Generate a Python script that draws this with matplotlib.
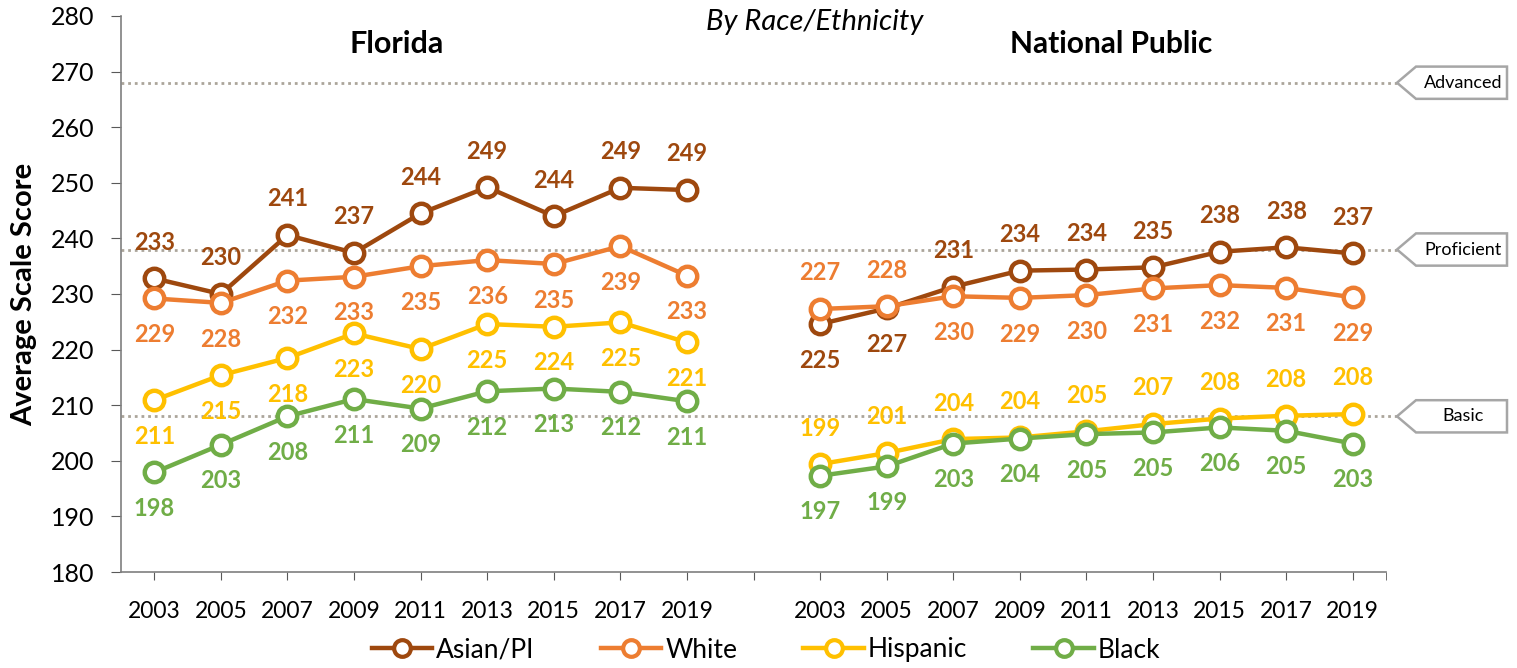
import matplotlib
matplotlib.use("Agg")
import matplotlib.pyplot as plt
from matplotlib.patches import Polygon
from matplotlib.lines import Line2D
from matplotlib.transforms import blended_transform_factory

# ---- data -----------------------------------------------------------
years = ["2003", "2005", "2007", "2009", "2011", "2013", "2015", "2017", "2019"]
groups = ["Asian/PI", "White", "Hispanic", "Black"]

fl_asian = [232.8, 230.0, 240.6, 237.4, 244.5, 249.2, 244.0, 249.1, 248.7]
fl_white = [229.2, 228.4, 232.4, 233.1, 235.0, 236.1, 235.4, 238.6, 233.3]
fl_hispanic = [210.9, 215.4, 218.5, 222.9, 220.1, 224.6, 224.1, 224.9, 221.3]
fl_black = [197.9, 202.9, 208.0, 211.1, 209.4, 212.5, 213.0, 212.4, 210.7]

nat_asian = [224.6, 227.4, 231.3, 234.2, 234.4, 234.8, 237.6, 238.4, 237.3]
nat_white = [227.3, 227.8, 229.6, 229.3, 229.8, 231.0, 231.6, 231.1, 229.4]
nat_hispanic = [199.4, 201.4, 203.9, 204.2, 205.3, 206.6, 207.6, 208.1, 208.4]
nat_black = [197.3, 199.0, 203.1, 204.0, 204.8, 205.1, 206.0, 205.4, 203.1]

# label side per point: 1 = above, -1 = below
fl_side = {
    "Asian/PI": [1] * 9,
    "White": [-1] * 9,
    "Hispanic": [-1] * 9,
    "Black": [-1] * 9,
}
nat_side = {
    "Asian/PI": [-1, -1, 1, 1, 1, 1, 1, 1, 1],
    "White": [1, 1, -1, -1, -1, -1, -1, -1, -1],
    "Hispanic": [1] * 9,
    "Black": [-1] * 9,
}

levels = ["Advanced", "Proficient", "Basic"]
level_scores = [268, 238, 208]

colors = {"Asian/PI": "#9E480E", "White": "#ED7D31", "Hispanic": "#FFC000", "Black": "#70AD47"}

florida = {"Asian/PI": fl_asian, "White": fl_white, "Hispanic": fl_hispanic, "Black": fl_black}
national = {"Asian/PI": nat_asian, "White": nat_white, "Hispanic": nat_hispanic, "Black": nat_black}

# ---- figure ---------------------------------------------------------
plt.rcParams["font.family"] = ["Lato", "DejaVu Sans"]
fig = plt.figure(figsize=(15.17, 6.68), dpi=100)
ax = fig.add_axes([121 / 1517, 96 / 668, (1386 - 121) / 1517, 556 / 668])

fl_x = list(range(9))
nat_x = list(range(10, 19))

for g in groups:
    for xs, data, sides in ((fl_x, florida, fl_side), (nat_x, national, nat_side)):
        vals = data[g]
        ax.plot(xs, vals, color=colors[g], lw=3.2, marker="o", ms=14,
                mfc="white", mec=colors[g], mew=3.2, zorder=3)
        for x, v, s in zip(xs, vals, sides[g]):
            ax.annotate(f"{round(v)}", (x, v), xytext=(0, 26 * s), textcoords="offset points",
                        ha="center", va="center", fontsize=17, fontweight="bold",
                        color=colors[g], zorder=4)

ax.set_xlim(-0.5, 18.5)
ax.set_ylim(180, 280)
ax.set_yticks(range(180, 281, 10))
ax.set_xticks(range(19))
ax.set_xticklabels(years + [""] + years)
ax.set_xticks([18.5], minor=True)
ax.tick_params(axis="y", labelsize=18, length=7, color="#595959", pad=12)
ax.tick_params(axis="x", labelsize=16.5, length=6, color="#595959", pad=15)
ax.tick_params(axis="x", which="minor", length=6, color="#595959")
for side in ("top", "right"):
    ax.spines[side].set_visible(False)
for side in ("left", "bottom"):
    ax.spines[side].set_color("#7F7F7F")
    ax.spines[side].set_linewidth(1.2)

ax.set_ylabel("Average Scale Score", fontsize=21, fontweight="bold", labelpad=10)

# achievement level lines and tags
blend = blended_transform_factory(fig.transFigure, ax.transData)
x0, x_tip, x_notch, x_end = 121 / 1517, 1397 / 1517, 1416 / 1517, 1507 / 1517
half = 2.9  # half height in data units
for name, score in zip(levels, level_scores):
    ax.add_line(Line2D([x0, x_tip], [score, score], transform=blend, color="#ABA59A",
                       lw=2, ls=(0, (1, 1.4)), clip_on=False, zorder=1))
    poly = Polygon([(x_tip, score), (x_notch, score + half), (x_end, score + half),
                    (x_end, score - half), (x_notch, score - half)], closed=True,
                   transform=blend, facecolor="white", edgecolor="#A6A6A6", lw=1.8,
                   clip_on=False)
    ax.add_patch(poly)
    fig.text((x_notch + x_end) / 2 + 0.001, score, name, transform=blend,
             ha="center", va="center", fontsize=13)

# titles
fig.text(815 / 1517, 1 - 22 / 668, "By Race/Ethnicity", ha="center", va="center",
         fontsize=21, style="italic")
fig.text(397 / 1517, 1 - 44 / 668, "Florida", ha="center", va="center",
         fontsize=22, fontweight="bold")
fig.text(1111 / 1517, 1 - 44 / 668, "National Public", ha="center", va="center",
         fontsize=21.5, fontweight="bold")

# legend
handles = [Line2D([], [], color=colors[g], lw=3.2, marker="o", ms=12, mfc="white",
                  mec=colors[g], mew=3) for g in groups]
fig.legend(handles, groups, loc="center", bbox_to_anchor=(766 / 1517, 1 - 650 / 668),
           ncol=4, frameon=False, fontsize=19, handlelength=2.3, columnspacing=2.5,
           handletextpad=0.15)

fig.savefig("out.png", dpi=100)
